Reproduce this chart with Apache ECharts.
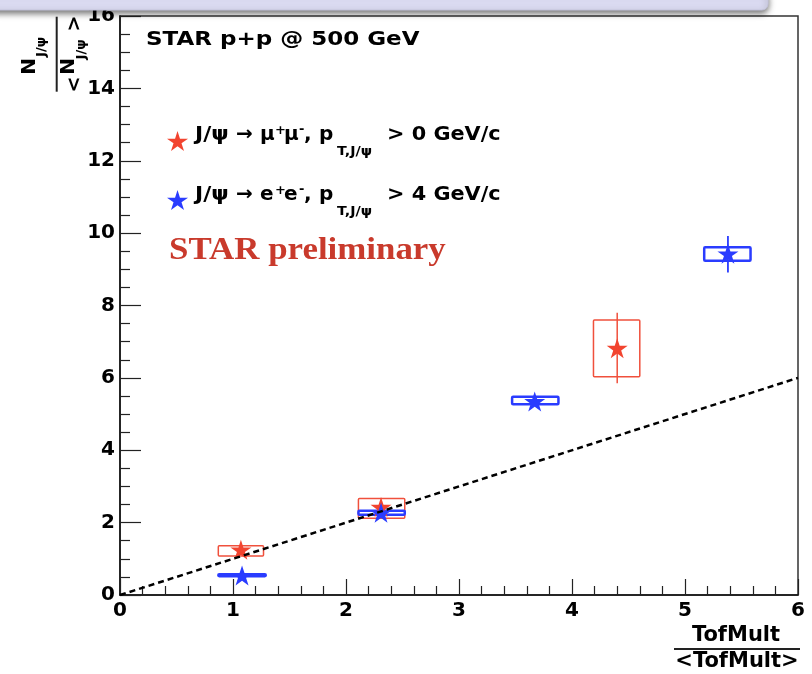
<!DOCTYPE html>
<html>
<head>
<meta charset="utf-8">
<script src="https://cdn.jsdelivr.net/npm/echarts@6/dist/echarts.min.js"></script>
<style>html,body{margin:0;padding:0;background:#fff;}#c{width:812px;height:674px;}</style>
</head>
<body>
<div id="c"></div>
<script>
// ---- data ----
const xTicks = [0, 1, 2, 3, 4, 5, 6];
const yTicks = [0, 2, 4, 6, 8, 10, 12, 14, 16];

// J/psi -> mu+ mu-, pT > 0 GeV/c
const muX     = [1.07, 2.31, 4.40];
const muY     = [1.25, 2.43, 6.82];
const muXLo   = [0.87, 2.11, 4.19];
const muXHi   = [1.27, 2.52, 4.60];
const muSysLo = [1.08, 2.12, 6.03];
const muSysHi = [1.36, 2.67, 7.60];
const muStatLo = [1.15, 2.30, 5.85];
const muStatHi = [1.35, 2.56, 7.80];

// J/psi -> e+ e-, pT > 4 GeV/c
const eeX     = [1.08, 2.31, 3.67, 5.38];
const eeY     = [0.54, 2.27, 5.35, 9.43];
const eeXLo   = [0.87, 2.11, 3.47, 5.17];
const eeXHi   = [1.29, 2.52, 3.88, 5.58];
const eeSysLo = [0.52, 2.22, 5.27, 9.24];
const eeSysHi = [0.57, 2.33, 5.48, 9.61];
const eeStatLo = [0.50, 2.20, 5.28, 8.91];
const eeStatHi = [0.58, 2.34, 5.45, 9.92];

// reference line y = x
const refX = [0, 6];
const refY = [0, 6];

// ---- styling ----
const RED = '#f2442f';
const RED_BOX = '#f0503c';
const BLUE = '#2a3cff';
const STAR = 'path://M50 0 L61.17 34.63 L97.55 34.55 L68.07 55.87 L79.39 90.45 L50 69 L20.61 90.45 L31.93 55.87 L2.45 34.55 L38.83 34.63 Z';
const FONT = '"DejaVu Sans", "Liberation Sans", Arial, sans-serif';

function boxRender(color, lw) {
  return function (params, api) {
    const p1 = api.coord([api.value(0), api.value(3)]);
    const p2 = api.coord([api.value(1), api.value(2)]);
    return {
      type: 'rect',
      shape: { x: p1[0], y: p1[1], width: p2[0] - p1[0], height: p2[1] - p1[1], r: 1 },
      style: { fill: 'none', stroke: color, lineWidth: lw }
    };
  };
}
function errRender(color, lw) {
  return function (params, api) {
    const a = api.coord([api.value(0), api.value(1)]);
    const b = api.coord([api.value(0), api.value(2)]);
    return {
      type: 'line',
      shape: { x1: a[0], y1: a[1], x2: b[0], y2: b[1] },
      style: { stroke: color, lineWidth: lw }
    };
  };
}

function T(text, x, baseline, size, sx) {
  return {
    type: 'text', x: x, y: baseline - 0.36 * size, z: 100, scaleX: sx || 1,
    style: {
      text: text, fill: '#000', font: 'bold ' + size + 'px ' + FONT,
      align: 'left', textAlign: 'left', verticalAlign: 'middle', textVerticalAlign: 'middle'
    }
  };
}
function R(text, cx, cy, size) {
  return {
    type: 'text', x: cx, y: cy, rotation: Math.PI / 2, z: 100,
    style: { text: text, fill: '#000', font: 'bold ' + size + 'px ' + FONT,
      align: 'center', textAlign: 'center', verticalAlign: 'middle', textVerticalAlign: 'middle' }
  };
}
function C(text, cx, cy, size) {
  return {
    type: 'text', x: cx, y: cy, z: 100,
    style: { text: text, fill: '#000', font: 'bold ' + size + 'px ' + FONT,
      align: 'center', textAlign: 'center', verticalAlign: 'middle', textVerticalAlign: 'middle' }
  };
}

const chart = echarts.init(document.getElementById('c'), null, { renderer: 'canvas' });

const legendLine = function (b, particle, cut) {
  return [
    T('J/ψ', 195, b, 20, 1.1),
    T('→', 236, b, 20),
    T(particle, 260, b, 20),
    T('+', 275, b - 7, 13),
    T(particle, 284, b, 20),
    T('-', 299, b - 8, 13),
    T(',', 304, b, 20),
    T('p', 319, b, 20),
    T('T,J/ψ', 337, b + 14, 13, 1.1),
    T('> ' + cut + ' GeV/c', 387, b, 20, 1.04)
  ];
};

const option = {
  animation: false,
  backgroundColor: '#fff',
  grid: { left: 120, right: 14, top: 16, bottom: 79, show: true, borderColor: '#333', borderWidth: 1.5, backgroundColor: 'transparent' },
  xAxis: {
    type: 'value', min: xTicks[0], max: xTicks[xTicks.length - 1], interval: 1,
    axisLine: { show: true, lineStyle: { color: '#111', width: 1.5 } },
    axisTick: { show: true, inside: true, length: 16, lineStyle: { color: '#222', width: 1.2 } },
    minorTick: { show: true, splitNumber: 5, length: 9, lineStyle: { color: '#222', width: 1.2 } },
    splitLine: { show: false },
    axisLabel: { color: '#000', fontWeight: 'bold', fontSize: 20, fontFamily: FONT, margin: 6 }
  },
  yAxis: {
    type: 'value', min: yTicks[0], max: yTicks[yTicks.length - 1], interval: 2,
    axisLine: { show: true, lineStyle: { color: '#111', width: 1.5 } },
    axisTick: { show: true, inside: true, length: 21, lineStyle: { color: '#222', width: 1.2 } },
    minorTick: { show: true, splitNumber: 4, length: 10, lineStyle: { color: '#222', width: 1.2 } },
    splitLine: { show: false },
    axisLabel: { color: '#000', fontWeight: 'bold', fontSize: 20, fontFamily: FONT, margin: 5 }
  },
  legend: {
    orient: 'vertical', left: 167, top: 131, padding: 0, itemGap: 39,
    itemWidth: 23, itemHeight: 20, selectedMode: false,
    data: [{ name: 'mu', icon: STAR }, { name: 'ee', icon: STAR }],
    formatter: function () { return ' '; },
    textStyle: { fontSize: 1 }
  },
  series: [
    {
      type: 'line', name: 'ref', data: refX.map((x, i) => [x, refY[i]]),
      symbol: 'none', lineStyle: { color: '#000', width: 2.5, type: [6, 4] }, silent: true
    },
    {
      type: 'custom', name: 'muSys', renderItem: boxRender(RED_BOX, 1.5),
      data: muX.map((x, i) => [muXLo[i], muXHi[i], muSysLo[i], muSysHi[i]]),
      encode: { x: [0, 1], y: [2, 3] }
    },
    {
      type: 'custom', name: 'muStat', renderItem: errRender(RED_BOX, 1.5),
      data: muX.map((x, i) => [x, muStatLo[i], muStatHi[i]]),
      encode: { x: [0], y: [1, 2] }
    },
    {
      type: 'scatter', name: 'mu', data: muX.map((x, i) => [x, muY[i]]),
      symbol: STAR, symbolSize: [21, 20], itemStyle: { color: RED, opacity: 1 }
    },
    {
      type: 'custom', name: 'eeSys', renderItem: boxRender(BLUE, 2.5),
      data: eeX.map((x, i) => [eeXLo[i], eeXHi[i], eeSysLo[i], eeSysHi[i]]),
      encode: { x: [0, 1], y: [2, 3] }
    },
    {
      type: 'custom', name: 'eeStat', renderItem: errRender(BLUE, 1.8),
      data: eeX.map((x, i) => [x, eeStatLo[i], eeStatHi[i]]),
      encode: { x: [0], y: [1, 2] }
    },
    {
      type: 'scatter', name: 'ee', data: eeX.map((x, i) => [x, eeY[i]]),
      symbol: STAR, symbolSize: [21, 20], itemStyle: { color: BLUE, opacity: 1 }
    }
  ],
  graphic: [
    // slide banner at the top
    {
      type: 'rect', z: 50, shape: { x: -10, y: -10, width: 778, height: 20, r: 6 },
      style: { fill: '#dadaf1', stroke: '#c4c4dc', lineWidth: 1, shadowBlur: 6, shadowOffsetY: 3, shadowColor: 'rgba(0,0,0,0.55)' }
    },
    T('STAR p+p @ 500 GeV', 146, 47, 20, 1.15),
    ...legendLine(142, 'μ', '0'),
    ...legendLine(202, 'e', '4'),
    {
      type: 'text', x: 169, y: 251, z: 100, scaleX: 1.09,
      style: { text: 'STAR preliminary', fill: '#c93a2c', font: 'bold 32px "Liberation Serif", "DejaVu Serif", serif',
        align: 'left', textAlign: 'left', verticalAlign: 'middle', textVerticalAlign: 'middle' }
    },
    // y-axis title (rotated fraction)
    R('N', 30, 66.5, 20),
    R('J/ψ', 42, 47, 13),
    { type: 'line', z: 100, shape: { x1: 56.7, y1: 16.7, x2: 56.7, y2: 91.7 }, style: { stroke: '#222', lineWidth: 2 } },
    R('<', 75, 84.5, 19),
    R('N', 69, 66.5, 20),
    R('J/ψ', 82, 49.5, 13),
    R('>', 75, 23.5, 19),
    // x-axis title (fraction)
    C('TofMult', 736, 636, 21),
    { type: 'line', z: 100, shape: { x1: 674, y1: 649, x2: 800, y2: 649 }, style: { stroke: '#222', lineWidth: 2 } },
    C('<TofMult>', 737, 662, 21)
  ]
};
chart.setOption(option);
</script>
</body>
</html>
